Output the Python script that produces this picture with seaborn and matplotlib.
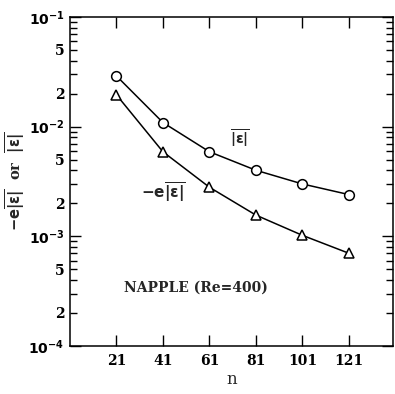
import numpy as np
import pandas as pd
import matplotlib
matplotlib.use('Agg')
import matplotlib.pyplot as plt
import matplotlib.ticker as mticker
import seaborn as sns

# grid sizes and error measures
n = [21, 41, 61, 81, 101, 121]
abs_err = [0.029, 0.0109, 0.0059, 0.0040, 0.0030, 0.0024]   # mean |eps|
neg_err = [0.0195, 0.0059, 0.0028, 0.00156, 0.00102, 0.00070]  # -e mean |eps|

x_ticks = [21, 41, 61, 81, 101, 121]

sns.set_style('ticks')
plt.rcParams['font.family'] = ['DejaVu Serif']
plt.rcParams['mathtext.fontset'] = 'dejavusans'
plt.rcParams['font.weight'] = 'bold'

fig = plt.figure(figsize=(3.95, 3.94), dpi=100)
ax = fig.add_axes([0.177, 0.122, 0.818, 0.835])

df = pd.DataFrame({'n': n, 'abs': abs_err, 'neg': neg_err})
sns.lineplot(data=df, x='n', y='abs', ax=ax, color='black', lw=1.1,
             marker='o', ms=7, mfc='white', mec='black', mew=1.1)
sns.lineplot(data=df, x='n', y='neg', ax=ax, color='black', lw=1.1,
             marker='^', ms=7.5, mfc='white', mec='black', mew=1.1)

ax.set_yscale('log')
ax.set_ylim(1e-4, 1e-1)
ax.set_xlim(1, 140)

ax.xaxis.set_major_locator(mticker.FixedLocator(x_ticks))
ax.xaxis.set_minor_locator(mticker.NullLocator())
ax.yaxis.set_major_locator(mticker.LogLocator(base=10, numticks=10))
ax.yaxis.set_minor_locator(mticker.LogLocator(base=10, subs=np.arange(2, 10), numticks=20))


def major_fmt(v, pos):
    e = int(round(np.log10(v)))
    return r'$\mathbf{10^{%d}}$' % e


def minor_fmt(v, pos):
    m = v / 10 ** np.floor(np.log10(v) + 1e-9)
    m = int(round(m))
    return str(m) if m in (2, 5) else ''


ax.yaxis.set_major_formatter(mticker.FuncFormatter(major_fmt))
ax.yaxis.set_minor_formatter(mticker.FuncFormatter(minor_fmt))

ax.tick_params(which='both', direction='in', top=True, right=True, width=1.0,
               labelsize=10, colors='black')
ax.tick_params(which='major', length=8, pad=4)
ax.tick_params(which='minor', length=5, pad=4)
ax.tick_params(axis='x', pad=6)
for lab in ax.get_yticklabels(which='minor') + ax.get_xticklabels():
    lab.set_fontweight('bold')
for sp in ax.spines.values():
    sp.set_linewidth(1.1)
    sp.set_color('black')

eps = r'\overline{|\mathrm{\epsilon}|}'
ax.set_xlabel('n', fontsize=12, labelpad=2)
ax.set_ylabel(r'$\mathrm{-e}%s$  or  $%s$' % (eps, eps),
              fontsize=10.5, fontweight='bold')
ax.yaxis.set_label_coords(-0.13, 0.5)

ax.text(74, 0.0078, r'$%s$' % eps, fontsize=10, ha='center', va='center')
ax.text(41, 0.0025, r'$\mathrm{-e}%s$' % eps, fontsize=11, ha='center', va='center')
ax.text(55, 0.00034, 'NAPPLE (Re=400)', fontsize=10, fontweight='bold',
        ha='center', va='center')

fig.savefig('out.png', dpi=100)
